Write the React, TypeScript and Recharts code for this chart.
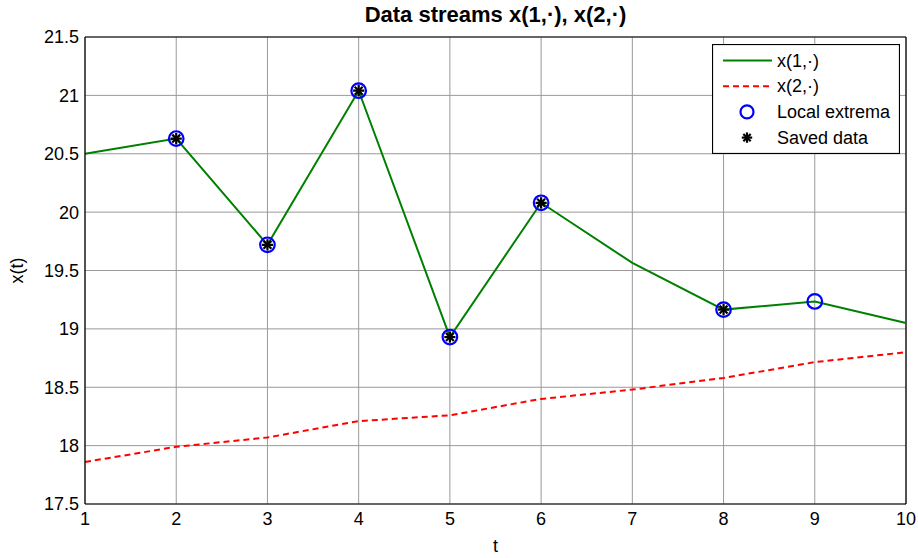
import {
  ComposedChart,
  Line,
  XAxis,
  YAxis,
  CartesianGrid,
  ReferenceLine,
} from "recharts";

const steps = [1, 2, 3, 4, 5, 6, 7, 8, 9, 10];
const stream1 = [20.5, 20.63, 19.72, 21.04, 18.93, 20.08, 19.565, 19.165, 19.235, 19.05];
const stream2 = [17.86, 17.99, 18.07, 18.21, 18.26, 18.4, 18.48, 18.58, 18.715, 18.8];
const extremaSteps = [2, 3, 4, 5, 6, 8, 9];
const savedSteps = [2, 3, 4, 5, 6, 8];
const xTicks = [1, 2, 3, 4, 5, 6, 7, 8, 9, 10];
const yTicks = [17.5, 18, 18.5, 19, 19.5, 20, 20.5, 21, 21.5];

const FONT = '"Liberation Sans", Arial, sans-serif';

const rows = steps.map((t, i) => ({
  t,
  x1: stream1[i],
  x2: stream2[i],
  ext: extremaSteps.includes(t) ? stream1[i] : null,
  saved: savedSteps.includes(t) ? stream1[i] : null,
}));

function CircleDot(props: any) {
  const { cx, cy, value } = props;
  if (value == null || cx == null || cy == null) return <g />;
  return <circle cx={cx} cy={cy} r={7.3} fill="none" stroke="#0000ff" strokeWidth={2.2} />;
}

function Star({ cx, cy, r = 5.6 }: { cx: number; cy: number; r?: number }) {
  const d = r * 0.707;
  return (
    <g stroke="#000" strokeWidth={2.2}>
      <line x1={cx - r} y1={cy} x2={cx + r} y2={cy} />
      <line x1={cx} y1={cy - r} x2={cx} y2={cy + r} />
      <line x1={cx - d} y1={cy - d} x2={cx + d} y2={cy + d} />
      <line x1={cx - d} y1={cy + d} x2={cx + d} y2={cy - d} />
    </g>
  );
}

function StarDot(props: any) {
  const { cx, cy, value } = props;
  if (value == null || cx == null || cy == null) return <g />;
  return <Star cx={cx} cy={cy} />;
}

function LegendBox() {
  const items = [
    { label: "x(1,·)", kind: "solid" },
    { label: "x(2,·)", kind: "dashed" },
    { label: "Local extrema", kind: "circle" },
    { label: "Saved data", kind: "star" },
  ];
  return (
    <svg width={188} height={110} style={{ display: "block" }}>
      <rect x={0.5} y={0.5} width={187} height={109} fill="#fff" stroke="#000" strokeWidth={1.2} />
      {items.map((it, i) => {
        const y = 16.5 + i * 25.7;
        return (
          <g key={it.label}>
            {it.kind === "solid" && <line x1={11} x2={60} y1={y} y2={y} stroke="#008000" strokeWidth={2} />}
            {it.kind === "dashed" && (
              <line x1={11} x2={60} y1={y} y2={y} stroke="#ff0000" strokeWidth={2} strokeDasharray="6 4" />
            )}
            {it.kind === "circle" && <circle cx={35} cy={y} r={6.5} fill="none" stroke="#0000ff" strokeWidth={2.2} />}
            {it.kind === "star" && <Star cx={35} cy={y} r={5.2} />}
            <text x={65} y={y + 6} fontSize={18} fontFamily={FONT} fill="#000">
              {it.label}
            </text>
          </g>
        );
      })}
    </svg>
  );
}

export default function App() {
  return (
    <div style={{ position: "absolute", left: 0, top: 0, width: 918, height: 558, background: "#fff" }}>
      <div
        style={{
          position: "absolute",
          left: 85,
          width: 821,
          top: 2,
          textAlign: "center",
          fontFamily: FONT,
          fontWeight: "bold",
          fontSize: 22,
          color: "#000",
        }}
      >
        Data streams x(1,·), x(2,·)
      </div>
      <ComposedChart
        width={918}
        height={558}
        data={rows}
        margin={{ top: 37, right: 12, bottom: 4, left: 0 }}
        style={{ fontFamily: FONT }}
      >
        <CartesianGrid stroke="#999" strokeWidth={1} horizontalValues={yTicks} verticalValues={xTicks} />
        <XAxis
          dataKey="t"
          type="number"
          domain={[1, 10]}
          ticks={xTicks}
          height={50}
          tickLine={false}
          axisLine={{ stroke: "#000", strokeWidth: 1.2 }}
          tick={{ fill: "#000", fontSize: 18 }}
          tickMargin={2}
          label={{ value: "t", position: "insideBottom", offset: 2, fill: "#000", fontSize: 18 }}
        />
        <YAxis
          type="number"
          domain={[17.5, 21.5]}
          ticks={yTicks}
          width={85}
          tickLine={false}
          axisLine={{ stroke: "#000", strokeWidth: 1.2 }}
          tick={{ fill: "#000", fontSize: 18 }}
          tickMargin={0}
          allowDataOverflow
          label={{ value: "x(t)", angle: -90, position: "center", dx: -26, fill: "#000", fontSize: 18 }}
        />
        <ReferenceLine y={21.5} stroke="#000" strokeWidth={1.2} />
        <ReferenceLine x={10} stroke="#000" strokeWidth={1.2} />
        <Line
          dataKey="x1"
          stroke="#008000"
          strokeWidth={2}
          dot={false}
          activeDot={false}
          isAnimationActive={false}
        />
        <Line
          dataKey="x2"
          stroke="#ff0000"
          strokeWidth={2}
          strokeDasharray="6 4"
          dot={false}
          activeDot={false}
          isAnimationActive={false}
        />
        <Line
          dataKey="ext"
          stroke="none"
          dot={<CircleDot />}
          activeDot={false}
          isAnimationActive={false}
        />
        <Line
          dataKey="saved"
          stroke="none"
          dot={<StarDot />}
          activeDot={false}
          isAnimationActive={false}
        />
      </ComposedChart>
      <div style={{ position: "absolute", left: 712, top: 44 }}>
        <LegendBox />
      </div>
    </div>
  );
}
